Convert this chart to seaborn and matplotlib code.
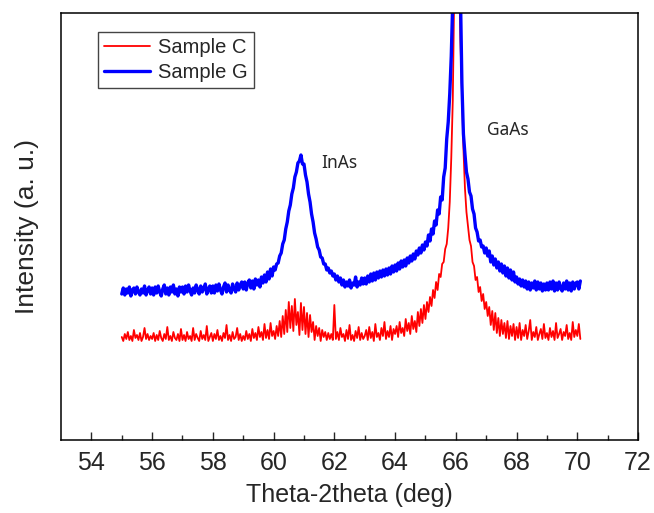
"""
XRD theta-2theta scans of two samples (C and G)
InAs peak near 61 deg, GaAs substrate peak near 66 deg
"""

import numpy as np
import pandas as pd
import matplotlib
matplotlib.use('Agg')
import matplotlib.pyplot as plt
import seaborn as sns

# Scan angle, 0.05 deg step from 55.00 to 70.10
theta = np.round(np.arange(55.0, 70.1001, 0.05), 2)

# Intensity (arbitrary units), one row per degree (x.00 .. x.95)
sample_c = [
    103, 99, 106, 101, 108, 100, 104, 99, 110, 102, 105, 100, 107, 99, 103, 112, 101, 106, 100, 104,
    101, 107, 99, 105, 100, 109, 102, 99, 106, 101, 113, 100, 104, 99, 108, 102, 100, 106, 99, 111,
    100, 105, 99, 108, 101, 104, 99, 112, 100, 106, 102, 99, 109, 101, 105, 100, 114, 99, 103, 107,
    99, 106, 101, 110, 100, 104, 99, 107, 102, 115, 100, 105, 99, 108, 101, 103, 112, 100, 106, 99,
    104, 100, 109, 101, 106, 99, 111, 102, 107, 100, 113, 103, 108, 100, 116, 102, 110, 101, 117, 104,
    109, 101, 114, 104, 119, 103, 124, 106, 130, 108, 138, 112, 134, 109, 141, 115, 128, 105, 137, 110,
    133, 106, 127, 103, 125, 108, 118, 100, 114, 104, 112, 99, 110, 103, 108, 100, 107, 101, 106, 100,
    135, 101, 108, 100, 112, 103, 106, 99, 110, 101, 115, 100, 105, 99, 109, 102, 113, 100, 107, 101,
    104, 110, 100, 113, 102, 108, 99, 116, 103, 107, 100, 112, 104, 118, 101, 109, 103, 114, 100, 111,
    106, 114, 103, 118, 107, 112, 104, 121, 109, 117, 106, 124, 111, 119, 108, 128, 114, 131, 117, 135,
    121, 138, 128, 143, 134, 150, 142, 158, 150, 166, 163, 176, 178, 191, 196, 212, 238, 282, 340, 455,
    700, 720, 480, 400, 350, 292, 252, 228, 214, 200, 194, 178, 174, 160, 163, 148, 153, 139, 146, 131,
    138, 124, 133, 115, 129, 110, 127, 107, 122, 104, 120, 106, 117, 102, 119, 101, 114, 104, 116, 100,
    113, 102, 117, 100, 110, 104, 115, 101, 109, 120, 100, 108, 103, 113, 100, 106, 111, 101, 116, 102,
    107, 100, 112, 103, 109, 100, 117, 102, 106, 111, 100, 108, 104, 115, 101, 107, 100, 118, 103, 110,
    104, 116, 101,
]

sample_g = [
    146, 152, 145, 151, 147, 153, 144, 150, 152, 146, 153, 148, 145, 151, 147, 154, 145, 150, 153, 146,
    152, 145, 153, 147, 154, 148, 144, 151, 155, 146, 152, 145, 153, 148, 155, 146, 151, 144, 153, 148,
    153, 146, 154, 148, 155, 149, 145, 152, 147, 155, 150, 146, 154, 148, 152, 156, 146, 151, 154, 147,
    154, 147, 155, 149, 156, 150, 146, 153, 157, 148, 155, 150, 147, 156, 151, 148, 157, 150, 155, 158,
    151, 158, 150, 157, 160, 152, 159, 151, 161, 155, 160, 153, 163, 157, 165, 158, 168, 161, 171, 164,
    173, 170, 176, 177, 184, 187, 196, 200, 211, 218, 229, 235, 246, 252, 263, 268, 277, 279, 285, 276,
    276, 265, 258, 246, 238, 226, 218, 207, 201, 193, 190, 183, 182, 176, 176, 170, 172, 167, 169, 164,
    166, 160, 164, 158, 162, 155, 160, 153, 158, 154, 160, 152, 157, 155, 163, 153, 158, 155, 162, 156,
    162, 156, 164, 158, 166, 159, 167, 160, 168, 162, 169, 163, 170, 164, 171, 165, 172, 166, 174, 168,
    175, 169, 177, 171, 179, 173, 180, 174, 182, 177, 184, 179, 186, 181, 189, 185, 192, 187, 195, 190,
    198, 194, 205, 199, 211, 206, 219, 215, 230, 226, 243, 240, 263, 272, 301, 318, 346, 384, 440, 560,
    760, 820, 640, 450, 357, 306, 286, 268, 261, 248, 244, 231, 226, 212, 208, 199, 200, 193, 194, 187,
    192, 184, 189, 178, 184, 175, 181, 172, 178, 169, 176, 167, 174, 164, 172, 162, 170, 160, 168, 158,
    163, 156, 161, 154, 160, 153, 159, 151, 158, 150, 157, 152, 159, 150, 158, 151, 157, 149, 156, 150,
    157, 150, 158, 151, 159, 149, 157, 150, 158, 152, 149, 157, 151, 159, 150, 157, 149, 158, 151, 157,
    158, 151, 159,
]

df = pd.DataFrame({'theta': theta, 'Sample C': sample_c, 'Sample G': sample_g})

sns.set_style('ticks')
plt.rcParams['font.family'] = ['Liberation Sans', 'DejaVu Sans']

fig = plt.figure(figsize=(6.54, 5.13), dpi=100)
ax = fig.add_axes([0.0933, 0.1423, 0.8823, 0.8324])

# Plot both scans, red first so blue sits on top
sns.lineplot(data=df, x='theta', y='Sample C', color='#ff0000', lw=1.3,
             label='Sample C', estimator=None, ax=ax)
sns.lineplot(data=df, x='theta', y='Sample G', color='#0000ff', lw=2.4,
             label='Sample G', estimator=None, ax=ax)

ax.set_xlim(53, 72)
ax.set_ylim(0, 427)

# Axis ticks: majors every 2 deg, minors in between, no y ticks
ax.set_xticks(np.arange(54, 73, 2))
ax.set_xticks(np.arange(55, 72, 2), minor=True)
ax.tick_params(axis='x', which='major', direction='in', length=6, width=1,
               labelsize=18, pad=8, top=False)
ax.tick_params(axis='x', which='minor', direction='in', length=3.5, width=1, top=False)
ax.set_yticks([])

for side in ['left', 'right', 'top', 'bottom']:
    ax.spines[side].set_visible(True)
    ax.spines[side].set_linewidth(1.1)
    ax.spines[side].set_color('black')

ax.set_xlabel('Theta-2theta (deg)', fontsize=18, labelpad=6)
ax.set_ylabel('Intensity (a. u.)', fontsize=19, labelpad=16)

# Peak labels
ax.text(61.56, 277, 'InAs', fontsize=12.5, family=['Noto Sans', 'DejaVu Sans'],
        ha='left', va='center')
ax.text(67.03, 310, 'GaAs', fontsize=12.5, family=['Noto Sans', 'DejaVu Sans'],
        ha='left', va='center')

leg = ax.legend(loc='upper left', bbox_to_anchor=(0.064, 0.956), borderaxespad=0,
                fontsize=14.5, frameon=True, fancybox=False, framealpha=1,
                edgecolor='#444444', handlelength=2.3, handletextpad=0.4,
                labelspacing=0.3, borderpad=0.3)
leg.get_frame().set_linewidth(1.0)

plt.savefig('out.png', dpi=100)
